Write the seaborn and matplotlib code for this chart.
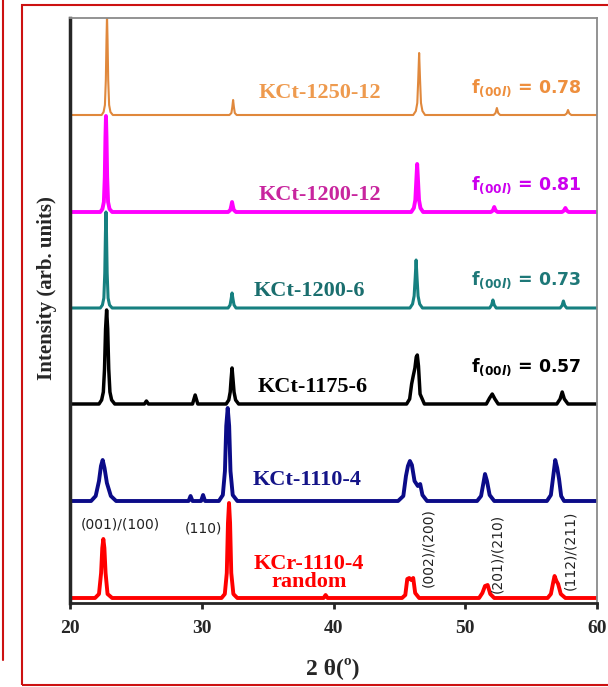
import matplotlib
matplotlib.use("Agg")
import matplotlib.pyplot as plt
import seaborn as sns
import pandas as pd
from matplotlib.patches import Rectangle
from matplotlib.lines import Line2D

# XRD patterns (2theta in degrees, intensity above baseline, arb. units)
tt_1250_12 = [20.0, 22.4, 22.55, 22.65, 22.72, 22.77, 22.81, 22.85, 22.9, 22.97, 23.07, 23.25,
              32.1, 32.25, 32.32, 32.38, 32.44, 32.51, 32.65,
              46.05, 46.25, 46.36, 46.43, 46.5, 46.57, 46.64, 46.75, 46.95,
              52.15, 52.3, 52.4, 52.5, 52.65,
              57.55, 57.7, 57.8, 57.9, 58.05, 60.0]
int_1250_12 = [0, 0, 3, 10, 35, 75, 100, 75, 35, 10, 3, 0,
               0, 2, 8, 15, 8, 2, 0,
               0, 4, 12, 35, 62, 35, 12, 4, 0,
               0, 2, 7, 2, 0,
               0, 1.5, 5, 1.5, 0, 0]

tt_1200_12 = [20.0, 22.3, 22.46, 22.57, 22.64, 22.69, 22.73, 22.77, 22.82, 22.89, 23.0, 23.2,
              32.0, 32.17, 32.24, 32.3, 32.36, 32.43, 32.6,
              45.9, 46.1, 46.21, 46.28, 46.35, 46.42, 46.49, 46.6, 46.8,
              51.95, 52.1, 52.2, 52.3, 52.45,
              57.35, 57.5, 57.6, 57.7, 57.85, 60.0]
int_1200_12 = [0, 0, 3, 10, 35, 75, 96, 75, 35, 10, 3, 0,
               0, 2, 6, 10, 6, 2, 0,
               0, 4, 12, 30, 48, 30, 12, 4, 0,
               0, 1.5, 5, 1.5, 0,
               0, 1.5, 4, 1.5, 0, 0]

tt_1200_6 = [20.0, 22.3, 22.46, 22.57, 22.64, 22.69, 22.73, 22.77, 22.82, 22.89, 23.0, 23.2,
             32.0, 32.15, 32.23, 32.3, 32.37, 32.45, 32.6,
             45.8, 46.0, 46.12, 46.2, 46.27, 46.34, 46.42, 46.54, 46.75,
             51.85, 52.0, 52.1, 52.2, 52.35,
             57.2, 57.35, 57.45, 57.55, 57.7, 60.0]
int_1200_6 = [0, 0, 3, 10, 35, 75, 96, 75, 35, 10, 3, 0,
              0, 3, 9, 15, 9, 3, 0,
              0, 4, 12, 30, 48, 30, 12, 4, 0,
              0, 3, 8, 3, 0,
              0, 2.5, 7, 2.5, 0, 0]

tt_1175_6 = [20.0, 22.2, 22.4, 22.53, 22.62, 22.7, 22.78, 22.86, 22.94, 23.03, 23.16, 23.4,
             25.65, 25.8, 25.95,
             29.3, 29.5, 29.7,
             31.85, 32.05, 32.16, 32.23, 32.3, 32.37, 32.45, 32.57, 32.8,
             45.55, 45.78, 45.93, 46.05, 46.18, 46.28, 46.36, 46.45, 46.57, 46.9,
             51.6, 51.85, 52.05, 52.25, 52.5,
             56.95, 57.2, 57.36, 57.52, 57.8, 60.0]
int_1175_6 = [0, 0, 4, 12, 35, 75, 94, 75, 35, 12, 4, 0,
              0, 3, 0,
              0, 9, 0,
              0, 4, 12, 25, 36, 25, 12, 4, 0,
              0, 5, 20, 28, 36, 47, 49, 38, 10, 0,
              0, 6, 10, 5, 0,
              0, 5, 12, 5, 0, 0]

tt_1110_4 = [20.0, 21.6, 21.95, 22.2, 22.35, 22.48, 22.62, 22.8, 23.1, 23.5,
             29.0, 29.15, 29.3, 29.95, 30.1, 30.25,
             31.3, 31.6, 31.76, 31.86, 31.97, 32.08, 32.18, 32.35, 32.7,
             44.9, 45.3, 45.5, 45.65, 45.8, 45.95, 46.15, 46.4, 46.58, 46.75, 47.1,
             50.9, 51.2, 51.38, 51.5, 51.65, 51.85, 52.2,
             56.2, 56.5, 56.68, 56.83, 56.98, 57.12, 57.28, 57.5, 60.0]
int_1110_4 = [0, 0, 5, 20, 35, 41, 33, 18, 5, 0,
              0, 5, 0, 0, 6, 0,
              0, 6, 30, 75, 93, 75, 30, 6, 0,
              0, 5, 25, 35, 40, 36, 20, 15, 17, 6, 0,
              0, 5, 18, 27, 20, 6, 0,
              0, 6, 25, 41, 33, 22, 5, 0, 0]

tt_random = [20.0, 21.9, 22.2, 22.36, 22.45, 22.53, 22.61, 22.7, 22.85, 23.2,
             31.5, 31.75, 31.9, 31.99, 32.07, 32.15, 32.24, 32.4, 32.7,
             39.25, 39.4, 39.55,
             45.2, 45.45, 45.6, 45.75, 45.9, 46.05, 46.2, 46.5,
             51.05, 51.3, 51.5, 51.7, 51.9, 52.2,
             56.25, 56.5, 56.68, 56.78, 56.92, 57.05, 57.25, 57.6, 60.0]
int_random = [0, 0, 4, 25, 50, 59, 50, 25, 4, 0,
              0, 4, 25, 75, 95, 75, 25, 4, 0,
              0, 3, 0,
              0, 3, 19, 20, 18, 20, 5, 0,
              0, 5, 12, 13, 4, 0,
              0, 4, 16, 22, 17, 14, 4, 0, 0]

samples = ["KCt-1250-12", "KCt-1200-12", "KCt-1200-6", "KCt-1175-6", "KCt-1110-4", "KCr-1110-4\nrandom"]
two_theta = [tt_1250_12, tt_1200_12, tt_1200_6, tt_1175_6, tt_1110_4, tt_random]
intensity = [int_1250_12, int_1200_12, int_1200_6, int_1175_6, int_1110_4, int_random]
offsets = [488, 391, 295, 199, 102, 5]
f_ool = [0.78, 0.81, 0.73, 0.57]
hkl_labels = ["(001)/(100)", "(110)", "(002)/(200)", "(201)/(210)", "(112)/(211)"]

line_colors = ["#E0883C", "#FF00FF", "#168080", "black", "#0B0B88", "#FF0000"]
label_colors = ["#EE9A4E", "#C8259E", "#1A6E6E", "black", "#141488", "#FF0000"]
f_colors = ["#EE8F3E", "#CC00EE", "#1E7878", "black"]
line_widths = [1.5, 2.8, 2.2, 2.5, 2.8, 2.8]

sns.set_style("ticks")
plt.rcParams["mathtext.fontset"] = "custom"
plt.rcParams["mathtext.bf"] = "DejaVu Sans:bold"
plt.rcParams["mathtext.it"] = "DejaVu Sans:italic:bold"
plt.rcParams["mathtext.rm"] = "DejaVu Sans:bold"

fig = plt.figure(figsize=(6.08, 6.87), dpi=100)
ax = fig.add_axes([70 / 608, 1 - 603 / 687, 527 / 608, 585 / 687])

for i in range(len(samples)):
    df = pd.DataFrame({"2theta": two_theta[i],
                       "I": [v + offsets[i] for v in intensity[i]]})
    sns.lineplot(data=df, x="2theta", y="I", ax=ax, estimator=None, sort=False,
                 color=line_colors[i], linewidth=line_widths[i])

ax.set_xlim(20, 60)
ax.set_ylim(0, 585)
ax.set_xticks([20, 30, 40, 50, 60])
ax.set_yticks([])
ax.set_xlabel("")
ax.set_ylabel("")
ax.tick_params(axis="x", direction="out", length=4, width=2, pad=8)
for lab in ax.get_xticklabels():
    lab.set_fontfamily("Liberation Serif")
    lab.set_fontweight("bold")
    lab.set_fontsize(14)

ax.spines["left"].set_linewidth(2.5)
ax.spines["bottom"].set_linewidth(2)
for s in ["top", "right"]:
    ax.spines[s].set_color("#8a8a8a")
    ax.spines[s].set_linewidth(1.3)

# sample names
label_pos = [(39.0, 510), (39.0, 408), (38.2, 312), (38.45, 216), (38.0, 123), (38.15, 30)]
for i, name in enumerate(samples):
    ax.text(label_pos[i][0], label_pos[i][1], name, color=label_colors[i],
            fontfamily="Liberation Serif", fontweight="bold", fontsize=16,
            ha="center", va="center", linespacing=0.9)

# orientation factors
f_y = [515, 418, 323, 236]
for i in range(4):
    ax.text(50.4, f_y[i], r"$\mathbf{f}_{\mathit{(00l)}}$ = " + f"{f_ool[i]:.2f}",
            color=f_colors[i], fontfamily="DejaVu Sans", fontweight="bold",
            fontsize=12.5, ha="left", va="center")

# reflection indices
ax.text(23.8, 79, hkl_labels[0], fontsize=10, fontfamily="DejaVu Sans", ha="center", va="center", color="#222222")
ax.text(30.1, 75, hkl_labels[1], fontsize=10, fontfamily="DejaVu Sans", ha="center", va="center", color="#222222")
ax.text(47.2, 55, hkl_labels[2], fontsize=10, fontfamily="DejaVu Sans", ha="center", va="center", rotation=90, color="#222222")
ax.text(52.4, 50, hkl_labels[3], fontsize=10, fontfamily="DejaVu Sans", ha="center", va="center", rotation=90, color="#222222")
ax.text(58.0, 53, hkl_labels[4], fontsize=10, fontfamily="DejaVu Sans", ha="center", va="center", rotation=90, color="#222222")

fig.text(333 / 608, 1 - 668 / 687, "2 θ(º)", fontfamily="Liberation Serif",
         fontweight="bold", fontsize=17, ha="center", va="center")
fig.text(47 / 608, 1 - 288 / 687, "Intensity (arb. units)", fontfamily="Liberation Serif",
         fontweight="bold", fontsize=15, ha="center", va="center", rotation=90)

# red frame around the panel
fig.add_artist(Rectangle((22 / 608, 1 - 685 / 687), 600 / 608, 680 / 687,
                         transform=fig.transFigure, fill=False, edgecolor="#CC1111", linewidth=1.5))
fig.add_artist(Line2D([2.5 / 608, 2.5 / 608], [1 - 660 / 687, 1.0],
                      transform=fig.transFigure, color="#CC1111", linewidth=1.5))

fig.savefig("out.png", dpi=100)
